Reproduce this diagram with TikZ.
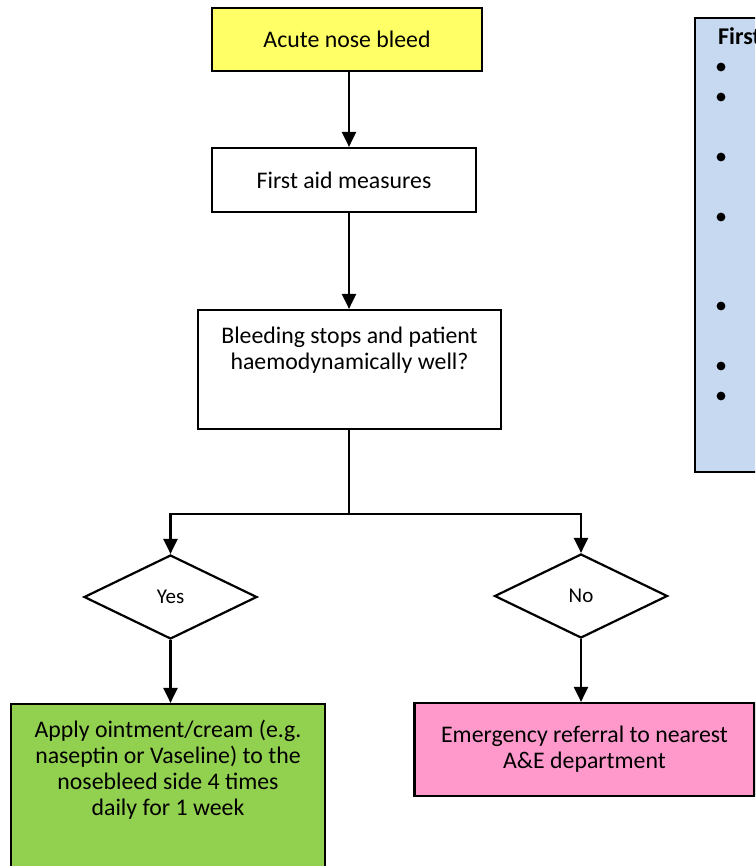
\documentclass[tikz,border=0pt]{standalone}
\usepackage{fontspec}
\setmainfont{Carlito}
\usetikzlibrary{shapes.geometric,arrows.meta}
\definecolor{bleedyellow}{HTML}{FFFF66}
\definecolor{okgreen}{HTML}{92D050}
\definecolor{aepink}{HTML}{FF99CC}
\definecolor{infoblue}{HTML}{C6D9F1}
\begin{document}
\begin{tikzpicture}[x=0.5pt,y=-0.5pt,line width=1.1pt,inner sep=0pt,
    box/.style={draw, rectangle, align=center, font=\fontsize{11.9}{13}\selectfont},
    txt/.style={align=center, font=\fontsize{11.9}{13}\selectfont},
    choice/.style={draw, diamond, minimum width=86.5pt, minimum height=42pt, font=\fontsize{10.5}{12}\selectfont},
    flow/.style={-{Triangle[width=7pt,length=7.5pt]}},
    dot/.style={circle, fill=black, minimum size=4.4pt}]
    \useasboundingbox (0,0) rectangle (755,866);
    \clip (0,0) rectangle (755,866);
    \node[box, fill=bleedyellow, minimum width=135pt, minimum height=31.5pt] (start) at (347,39.5) {Acute nose bleed};
    \node[box, minimum width=132pt, minimum height=32pt] (aid) at (344,180) {First aid measures};
    \node[box, minimum width=151.5pt, minimum height=59.5pt] (check) at (349.5,369.5) {};
    \node[txt, anchor=north] (checktxt) at (349.5,326) {Bleeding stops and patient\\haemodynamically well?};
    \coordinate (fork) at (349,514);
    \node[choice] (yes) at (170.5,597) {\raisebox{-2pt}{Yes}};
    \node[choice] (no) at (581,596) {\raisebox{-2pt}{No}};
    \node[box, fill=okgreen, minimum width=157pt, minimum height=98pt] (apply) at (168,802) {};
    \node[txt, anchor=north] (applytxt) at (168,719) {Apply ointment/cream (e.g.\\naseptin or Vaseline) to the\\nosebleed side 4 times\\daily for 1 week};
    \node[box, fill=aepink, minimum width=170pt, minimum height=46.5pt] (refer) at (584.5,749.5) {Emergency referral to nearest\\A\&E department};
    % first aid panel, cut off at the right edge
    \node[draw, fill=infoblue, minimum width=102.5pt, minimum height=227pt] (info) at (797.5,245) {};
    \node[anchor=base west, font=\fontsize{12}{14}\selectfont\bfseries] (infotitle) at (717,44.5) {First};
    \foreach \y [count=\i] in {67,97,157,217,306,366,396}
      \node[dot] (b\i) at (721,\y) {};
    \path[flow]%
      (start.south -| 349,0) edge (aid.north -| 349,0)
      (aid.south -| 349,0) edge (check.north -| 349,0)
      (yes.south) edge (apply.north -| yes.south)
      (no.south) edge (refer.north -| no.south);
    \draw (check.south -| fork) -- (fork);
    \draw[flow] (fork) -| (yes.north);
    \draw[flow] (fork) -| (no.north);
\end{tikzpicture}
\end{document}
